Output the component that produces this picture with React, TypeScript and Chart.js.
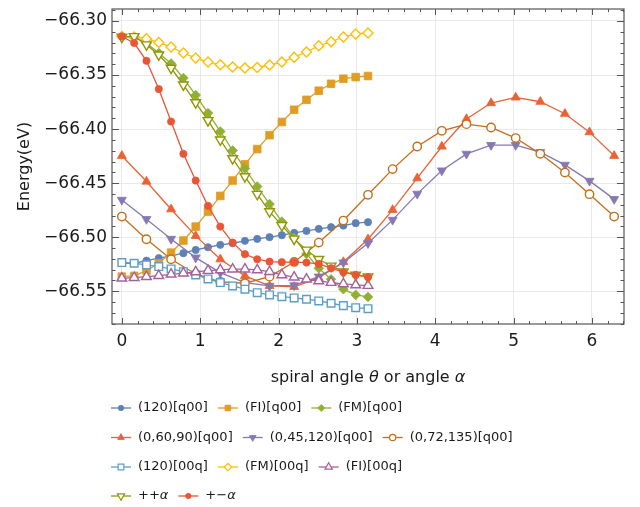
import React, { useEffect, useRef } from "react";
import { Chart, registerables } from "chart.js";

Chart.register(...registerables);

// ---- data ----
const anglesHalfStep = [
  0, 0.1571, 0.3142, 0.4712, 0.6283, 0.7854, 0.9425, 1.0996, 1.2566, 1.4137, 1.5708,
  1.7279, 1.885, 2.042, 2.1991, 2.3562, 2.5133, 2.6704, 2.8274, 2.9845, 3.1416,
];
const anglesFullStep = [
  0, 0.3142, 0.6283, 0.9425, 1.2566, 1.5708, 1.885, 2.1991, 2.5133, 2.8274, 3.1416,
  3.4558, 3.7699, 4.0841, 4.3982, 4.7124, 5.0265, 5.3407, 5.6549, 5.969, 6.2832,
];

const energy120q00 = [-66.5241, -66.5241, -66.5217, -66.5194, -66.5173, -66.5148, -66.5118, -66.5093, -66.5071, -66.5056, -66.5034, -66.5016, -66.5, -66.4981, -66.496, -66.4942, -66.4923, -66.4907, -66.4893, -66.487, -66.4861];
const energyFIq00 = [-66.5365, -66.5358, -66.5309, -66.5241, -66.5143, -66.5031, -66.4902, -66.4763, -66.4618, -66.4476, -66.4326, -66.4185, -66.4056, -66.3934, -66.3821, -66.3729, -66.3645, -66.3581, -66.3534, -66.3519, -66.3509];
const energyFMq00 = [-66.3143, -66.315, -66.3204, -66.3296, -66.3393, -66.3528, -66.3685, -66.3852, -66.4022, -66.4198, -66.4365, -66.4531, -66.4694, -66.4856, -66.5006, -66.5155, -66.5287, -66.5389, -66.5481, -66.5534, -66.5553];
const energy06090q00 = [-66.4247, -66.4485, -66.4741, -66.4988, -66.5204, -66.5358, -66.5451, -66.546, -66.5377, -66.5229, -66.5019, -66.4747, -66.4454, -66.4161, -66.3907, -66.3759, -66.3707, -66.3747, -66.3858, -66.4028, -66.4247];
const energy045120q00 = [-66.4655, -66.4833, -66.5016, -66.5189, -66.5328, -66.542, -66.5451, -66.5446, -66.5365, -66.5235, -66.5056, -66.484, -66.4599, -66.4383, -66.4229, -66.4148, -66.4148, -66.4213, -66.4331, -66.4479, -66.4648];
const energy072135q00 = [-66.4809, -66.5019, -66.5204, -66.534, -66.5414, -66.5426, -66.5365, -66.5229, -66.505, -66.4846, -66.4608, -66.437, -66.4161, -66.4016, -66.3954, -66.3985, -66.4083, -66.4229, -66.4402, -66.4602, -66.4809];
const energy12000q = [-66.5235, -66.5241, -66.5256, -66.5272, -66.5294, -66.5319, -66.5349, -66.5386, -66.542, -66.5451, -66.5481, -66.5513, -66.5534, -66.555, -66.5562, -66.5574, -66.559, -66.5611, -66.5633, -66.5652, -66.5661];
const energyFM00q = [-66.3143, -66.3148, -66.3164, -66.3198, -66.3241, -66.3296, -66.3343, -66.338, -66.3405, -66.3426, -66.3435, -66.343, -66.3407, -66.338, -66.3335, -66.3287, -66.3229, -66.3192, -66.3148, -66.312, -66.3111];
const energyFI00q = [-66.538, -66.5374, -66.5365, -66.5356, -66.5343, -66.5333, -66.5321, -66.5309, -66.5303, -66.5296, -66.5296, -66.5303, -66.5319, -66.5349, -66.537, -66.5389, -66.5405, -66.542, -66.5432, -66.5442, -66.5448];
const energyPlusPlus = [-66.3148, -66.3143, -66.3219, -66.3312, -66.3435, -66.359, -66.3754, -66.392, -66.4099, -66.4272, -66.4439, -66.4602, -66.4763, -66.4891, -66.5016, -66.5118, -66.5204, -66.5266, -66.5319, -66.5349, -66.5365];
const energyPlusMinus = [-66.3143, -66.3204, -66.3368, -66.363, -66.393, -66.4229, -66.4476, -66.471, -66.4902, -66.505, -66.5157, -66.5204, -66.5226, -66.5231, -66.5231, -66.5235, -66.5247, -66.5287, -66.5324, -66.5349, -66.537];

const seriesLabels = [
  "(120)[q00]", "(FI)[q00]", "(FM)[q00]",
  "(0,60,90)[q00]", "(0,45,120)[q00]", "(0,72,135)[q00]",
  "(120)[00q]", "(FM)[00q]", "(FI)[00q]",
  "++α", "+−α",
];
const seriesValues = [
  energy120q00, energyFIq00, energyFMq00,
  energy06090q00, energy045120q00, energy072135q00,
  energy12000q, energyFM00q, energyFI00q,
  energyPlusPlus, energyPlusMinus,
];
const seriesAngles = [
  anglesHalfStep, anglesHalfStep, anglesHalfStep,
  anglesFullStep, anglesFullStep, anglesFullStep,
  anglesHalfStep, anglesHalfStep, anglesHalfStep,
  anglesHalfStep, anglesHalfStep,
];

const xTickValues = [0, 1, 2, 3, 4, 5, 6];
const xTitle = [
  { t: "spiral angle ", it: false },
  { t: "θ", it: true },
  { t: " or angle ", it: false },
  { t: "α", it: true },
];
const yTitle = "Energy(eV)";

// ---- styles ----
type MStyle = { color: string; shape: string; r: number; filled: boolean; rot: number };
const styles: MStyle[] = [
  { color: "#5E81B5", shape: "circle", r: 3.6, filled: true, rot: 0 },
  { color: "#E19C24", shape: "rect", r: 5.4, filled: true, rot: 0 },
  { color: "#8FB032", shape: "rectRot", r: 4.8, filled: true, rot: 0 },
  { color: "#EB6235", shape: "triangle", r: 5.2, filled: true, rot: 0 },
  { color: "#8778B3", shape: "triangle", r: 5.2, filled: true, rot: 180 },
  { color: "#C56E1A", shape: "circle", r: 4.2, filled: false, rot: 0 },
  { color: "#5D9EC7", shape: "rect", r: 5.4, filled: false, rot: 0 },
  { color: "#FFBF00", shape: "rectRot", r: 5.0, filled: false, rot: 0 },
  { color: "#A5609D", shape: "triangle", r: 5.6, filled: false, rot: 0 },
  { color: "#929600", shape: "triangle", r: 5.6, filled: false, rot: 180 },
  { color: "#E95536", shape: "circle", r: 3.6, filled: true, rot: 0 },
];
const legendRows = [[0, 1, 2], [3, 4, 5], [6, 7, 8], [9, 10]];

const FONT = '"DejaVu Sans", sans-serif';
const X_MIN = -0.1257, X_MAX = 6.409;
const Y_MIN = -66.5803, Y_MAX = -66.2889;
const W = 640, H = 507;
const AREA = { left: 112, right: 624, top: 9, bottom: 324 };

function markerPath(ctx: CanvasRenderingContext2D, shape: string, x: number, y: number, r: number, rotDeg: number) {
  ctx.beginPath();
  if (shape === "circle") {
    ctx.arc(x, y, r, 0, Math.PI * 2);
  } else if (shape === "rect") {
    const s = Math.SQRT1_2 * r;
    ctx.rect(x - s, y - s, 2 * s, 2 * s);
  } else if (shape === "rectRot") {
    ctx.moveTo(x - r, y);
    ctx.lineTo(x, y - r);
    ctx.lineTo(x + r, y);
    ctx.lineTo(x, y + r);
    ctx.closePath();
  } else {
    let rad = (rotDeg * Math.PI) / 180;
    ctx.moveTo(x + Math.sin(rad) * r, y - Math.cos(rad) * r);
    rad += (2 * Math.PI) / 3;
    ctx.lineTo(x + Math.sin(rad) * r, y - Math.cos(rad) * r);
    rad += (2 * Math.PI) / 3;
    ctx.lineTo(x + Math.sin(rad) * r, y - Math.cos(rad) * r);
    ctx.closePath();
  }
}

const decorPlugin = {
  id: "decor",
  afterDraw(chart: any) {
    const ctx: CanvasRenderingContext2D = chart.ctx;
    const a = chart.chartArea;
    const xs = chart.scales.x;
    const ys = chart.scales.y;
    ctx.save();
    // frame
    ctx.strokeStyle = "#555555";
    ctx.lineWidth = 1.2;
    ctx.strokeRect(a.left, a.top, a.right - a.left, a.bottom - a.top);
    ctx.lineWidth = 1;
    ctx.beginPath();
    // x ticks (minor 0.2)
    for (let i = Math.ceil(X_MIN / 0.2); i <= Math.floor(X_MAX / 0.2); i++) {
      const v = i * 0.2;
      const major = i % 5 === 0;
      const len = major ? 6 : 3;
      const px = Math.round(xs.getPixelForValue(v)) + 0.5;
      ctx.moveTo(px, a.bottom);
      ctx.lineTo(px, a.bottom - len);
      ctx.moveTo(px, a.top);
      ctx.lineTo(px, a.top + len);
    }
    // y ticks (minor 0.01)
    for (let i = Math.ceil(Y_MIN * 100 - 1e-6); i <= Math.floor(Y_MAX * 100 + 1e-6); i++) {
      const v = i / 100;
      const major = Math.abs(i) % 5 === 0;
      const len = major ? 7 : 3.5;
      const py = Math.round(ys.getPixelForValue(v)) + 0.5;
      ctx.moveTo(a.left, py);
      ctx.lineTo(a.left + len, py);
      ctx.moveTo(a.right, py);
      ctx.lineTo(a.right - len, py);
    }
    ctx.stroke();

    // x title
    ctx.fillStyle = "#1a1a1a";
    ctx.textBaseline = "middle";
    ctx.textAlign = "left";
    const fontOf = (it: boolean, size: number) => `${it ? "italic " : ""}${size}px ${FONT}`;
    let total = 0;
    for (const s of xTitle) {
      ctx.font = fontOf(s.it, 16);
      total += ctx.measureText(s.t).width;
    }
    let tx = (a.left + a.right) / 2 - total / 2;
    for (const s of xTitle) {
      ctx.font = fontOf(s.it, 16);
      ctx.fillText(s.t, tx, 378);
      tx += ctx.measureText(s.t).width;
    }
    // y title
    ctx.save();
    ctx.translate(25, (a.top + a.bottom) / 2);
    ctx.rotate(-Math.PI / 2);
    ctx.textAlign = "center";
    ctx.font = fontOf(false, 16);
    ctx.fillText(yTitle, 0, 0);
    ctx.restore();

    // legend
    const rowY = [408, 437.5, 467, 496];
    legendRows.forEach((row, ri) => {
      let x = 111;
      const y = rowY[ri];
      row.forEach((idx) => {
        const st = styles[idx];
        ctx.strokeStyle = st.color;
        ctx.lineWidth = 1.3;
        ctx.beginPath();
        ctx.moveTo(x, y);
        ctx.lineTo(x + 20, y);
        ctx.stroke();
        markerPath(ctx, st.shape, x + 10, y, st.r * 0.75, st.rot);
        ctx.fillStyle = st.filled ? st.color : "#ffffff";
        ctx.fill();
        ctx.lineWidth = st.filled ? 0.8 : 1.2;
        ctx.stroke();
        const label = seriesLabels[idx];
        const tx0 = x + 27;
        // split italic alpha
        ctx.fillStyle = "#1a1a1a";
        ctx.textAlign = "left";
        let cx = tx0;
        for (const ch of label.includes("α") ? label.split(/(α)/).filter((p) => p) : [label]) {
          ctx.font = fontOf(ch === "α", 13);
          ctx.fillText(ch, cx, y);
          cx += ctx.measureText(ch).width;
        }
        x = cx + 10;
      });
    });
    ctx.restore();
  },
};

export default function App() {
  const ref = useRef<HTMLCanvasElement>(null);
  useEffect(() => {
    const N = seriesValues.length;
    const datasets = seriesValues.map((vals, i) => {
      const s = styles[i];
      return {
        label: seriesLabels[i],
        data: vals.map((v, k) => ({ x: seriesAngles[i][k], y: v })),
        borderColor: s.color,
        backgroundColor: s.color,
        borderWidth: 1.3,
        pointStyle: s.shape,
        pointRadius: s.r,
        pointHoverRadius: s.r,
        pointRotation: s.rot,
        pointBackgroundColor: s.filled ? s.color : "#ffffff",
        pointBorderColor: s.color,
        pointBorderWidth: s.filled ? 0.8 : 1.4,
        fill: false,
        tension: 0,
        order: N - i,
      };
    });
    const chart = new Chart(ref.current as HTMLCanvasElement, {
      type: "line",
      data: { datasets },
      options: {
        animation: false,
        responsive: false,
        devicePixelRatio: 1,
        layout: { padding: { left: 0, top: AREA.top, right: W - AREA.right, bottom: 0 } },
        plugins: { legend: { display: false }, tooltip: { enabled: false } },
        scales: {
          x: {
            type: "linear",
            min: X_MIN,
            max: X_MAX,
            afterBuildTicks: (scale: any) => {
              scale.ticks = xTickValues.map((v) => ({ value: v }));
            },
            afterFit: (scale: any) => {
              scale.height = H - AREA.bottom;
              scale.paddingLeft = 0;
              scale.paddingRight = 0;
            },
            ticks: {
              callback: (v: any) => String(Math.round(Number(v))),
              font: { family: FONT, size: 17 },
              color: "#1a1a1a",
              padding: 7,
              maxRotation: 0,
            },
            grid: { color: "#e9e9e9", lineWidth: 1, drawTicks: false },
            border: { display: false },
          },
          y: {
            type: "linear",
            min: Y_MIN,
            max: Y_MAX,
            ticks: {
              stepSize: 0.05,
              includeBounds: false,
              callback: (v: any) => "−" + Math.abs(Number(v)).toFixed(2),
              font: { family: FONT, size: 17 },
              color: "#1a1a1a",
              padding: 5,
            },
            afterFit: (scale: any) => {
              scale.width = AREA.left;
              scale.paddingTop = 0;
              scale.paddingBottom = 0;
            },
            grid: { color: "#e9e9e9", lineWidth: 1, drawTicks: false },
            border: { display: false },
          },
        },
      } as any,
      plugins: [decorPlugin],
    });
    return () => chart.destroy();
  }, []);
  return (
    <div style={{ position: "absolute", left: 0, top: 0, width: W, height: H, background: "#fff" }}>
      <canvas ref={ref} width={W} height={H} style={{ display: "block" }} />
    </div>
  );
}
